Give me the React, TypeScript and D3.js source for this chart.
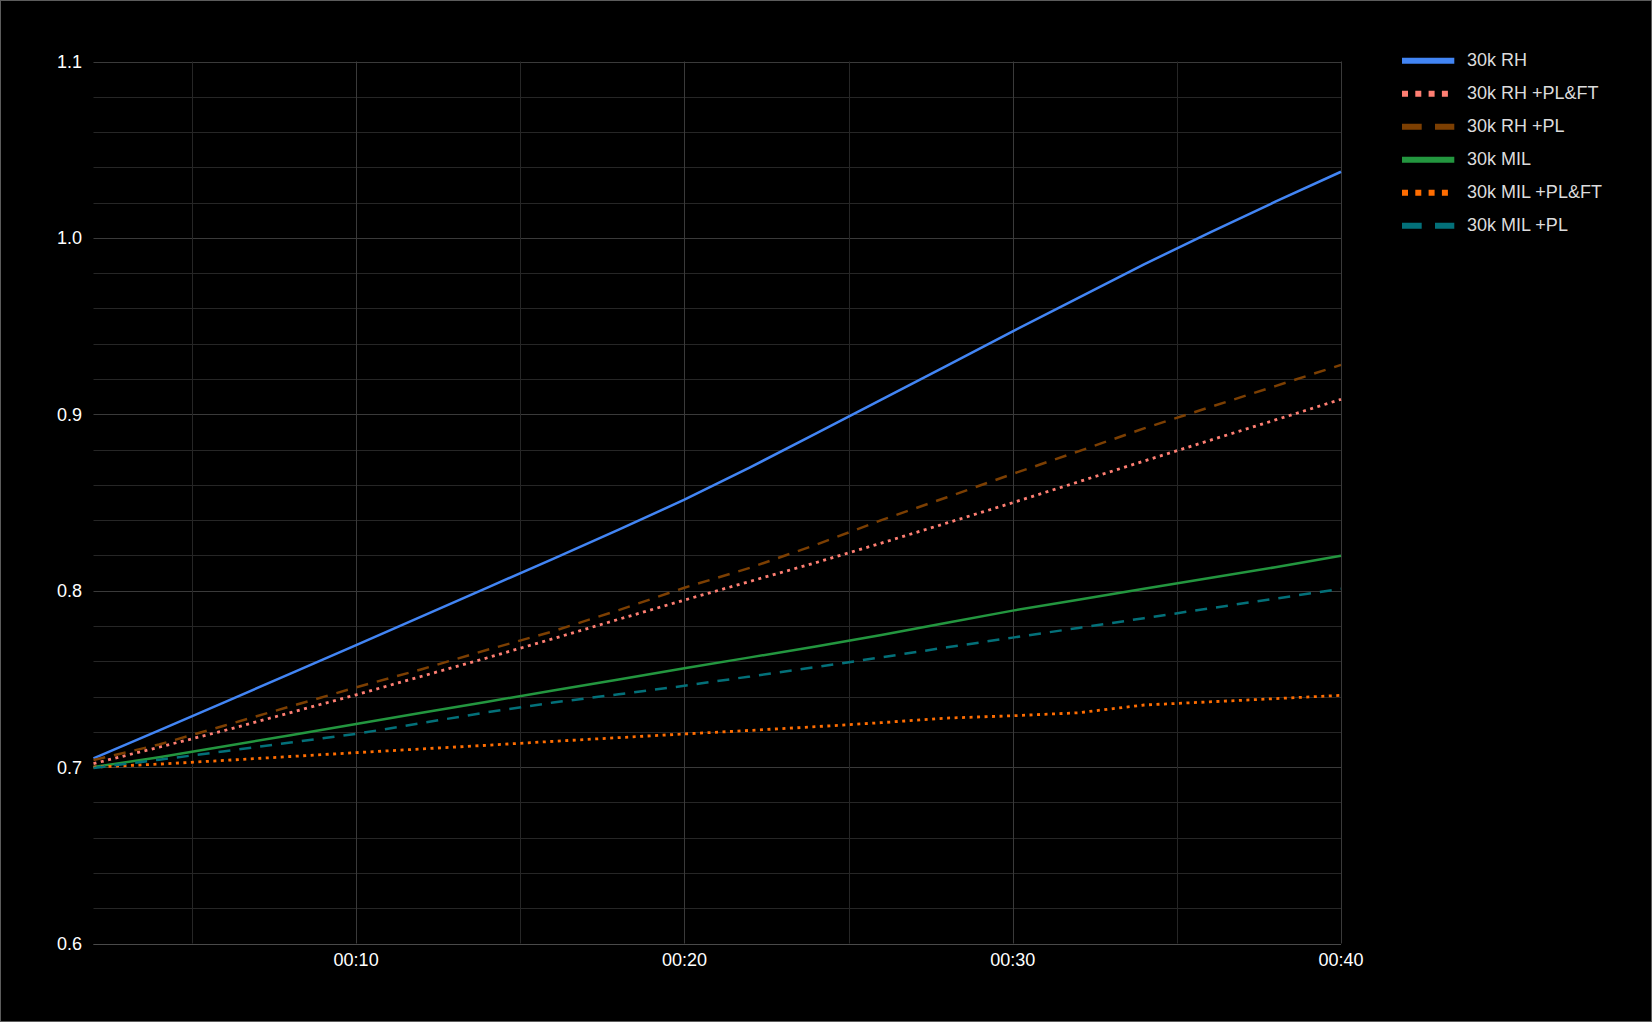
import { scaleLinear, line, range } from "d3";

const minutes = [2, 4, 6, 8, 10, 12, 14, 16, 18, 20, 22, 24, 26, 28, 30, 32, 34, 36, 38, 40];

const rh = [0.705, 0.7208, 0.7368, 0.753, 0.7692, 0.7855, 0.8018, 0.8181, 0.8346, 0.8516, 0.8699, 0.889, 0.9083, 0.9276, 0.947, 0.966, 0.985, 1.003, 1.0205, 1.0375];
const rhPlFt = [0.702, 0.7113, 0.7208, 0.7309, 0.741, 0.7515, 0.762, 0.7728, 0.7838, 0.7947, 0.8053, 0.8159, 0.827, 0.8384, 0.8499, 0.8617, 0.8735, 0.8852, 0.8968, 0.9085];
const rhPl = [0.704, 0.7128, 0.7236, 0.7344, 0.7452, 0.7555, 0.7665, 0.777, 0.789, 0.8017, 0.813, 0.826, 0.84, 0.853, 0.8662, 0.879, 0.892, 0.904, 0.916, 0.928];
const mil = [0.7, 0.7056, 0.7118, 0.7181, 0.7244, 0.7308, 0.7371, 0.7434, 0.7497, 0.756, 0.7622, 0.7684, 0.7749, 0.7818, 0.7887, 0.7949, 0.8011, 0.8072, 0.8133, 0.8198];
const milPlFt = [0.7, 0.7017, 0.7038, 0.706, 0.7082, 0.7103, 0.7124, 0.7146, 0.7167, 0.7188, 0.7208, 0.7229, 0.7252, 0.7278, 0.7291, 0.7308, 0.7352, 0.737, 0.7388, 0.7407];
const milPl = [0.6995, 0.7042, 0.709, 0.7139, 0.7188, 0.725, 0.7311, 0.7366, 0.7413, 0.7461, 0.7514, 0.7567, 0.7622, 0.7679, 0.7734, 0.7789, 0.7844, 0.79, 0.7955, 0.8011];

const seriesNames = ["30k RH", "30k RH +PL&FT", "30k RH +PL", "30k MIL", "30k MIL +PL&FT", "30k MIL +PL"];
const seriesValues = [rh, rhPlFt, rhPl, mil, milPlFt, milPl];
const seriesColors = ["#4285f4", "#ff7f73", "#7c3f02", "#23963f", "#ff6d01", "#037079"];
const seriesStyles = ["solid", "dot", "dash", "solid", "dot", "dash"];

const xTicks = [10, 20, 30, 40];
const xMinor = [5, 15, 25, 35];
const yTicks = [0.6, 0.7, 0.8, 0.9, 1.0, 1.1];

const W = 1652;
const H = 1022;

const plotDash: Record<string, string | undefined> = { solid: undefined, dot: "3,4.5", dash: "12,9" };
const legendDash: Record<string, string | undefined> = { solid: undefined, dot: "6,7.3", dash: "19.7,13.3" };

export default function App() {
  const x = scaleLinear().domain([2, 40]).range([93.5, 1341]);
  const y = scaleLinear().domain([0.6, 1.1]).range([943.5, 61.5]);
  const path = line<number>()
    .x((_, i) => x(minutes[i]))
    .y((d) => y(d));
  const minorY = range(0, 26).map((i) => 0.6 + i * 0.02);
  const font = "Arial, 'Liberation Sans', sans-serif";

  return (
    <div style={{ position: "fixed", left: 0, top: 0 }}>
      <svg width={W} height={H} viewBox={`0 0 ${W} ${H}`} style={{ display: "block", fontFamily: font }}>
        <rect x={0} y={0} width={W} height={H} fill="#000" />
        <rect x={0.5} y={0.5} width={W - 1} height={H - 1} fill="none" stroke="#5c5c5c" />

        {minorY.map((v, i) => (
          <line key={"hy" + i} x1={x(2)} x2={x(40)} y1={Math.round(y(v)) + 0.5} y2={Math.round(y(v)) + 0.5}
            stroke={i % 5 === 0 ? "#3a3a3a" : "#262626"} />
        ))}
        {xMinor.map((m) => (
          <line key={"vm" + m} x1={Math.round(x(m)) + 0.5} x2={Math.round(x(m)) + 0.5} y1={y(1.1)} y2={y(0.6)} stroke="#262626" />
        ))}
        {xTicks.map((m) => (
          <line key={"vx" + m} x1={Math.round(x(m)) + 0.5} x2={Math.round(x(m)) + 0.5} y1={y(1.1)} y2={y(0.6)} stroke="#3a3a3a" />
        ))}
        <line x1={x(2)} x2={x(40)} y1={Math.round(y(0.6)) + 0.5} y2={Math.round(y(0.6)) + 0.5} stroke="#4a4a4a" />

        {yTicks.map((v) => (
          <text key={"yt" + v} x={82} y={y(v) + 6.5} textAnchor="end" fontSize={18} fill="#fff">
            {v.toFixed(1)}
          </text>
        ))}
        {xTicks.map((m) => (
          <text key={"xt" + m} x={x(m)} y={966} textAnchor="middle" fontSize={18} fill="#fff">
            {`00:${m}`}
          </text>
        ))}

        {seriesValues.map((vals, i) => (
          <path key={"s" + i} d={path(vals) ?? ""} fill="none" stroke={seriesColors[i]}
            strokeWidth={seriesStyles[i] === "dot" ? 2.8 : 2.5} strokeDasharray={plotDash[seriesStyles[i]]}
            strokeLinejoin="round" />
        ))}

        {seriesNames.map((name, i) => {
          const ry = 60.8 + i * 33;
          return (
            <g key={"lg" + i}>
              <line x1={1402} x2={1454.3} y1={ry} y2={ry} stroke={seriesColors[i]} strokeWidth={6}
                strokeDasharray={legendDash[seriesStyles[i]]} />
              <text x={1467} y={ry + 5.5} fontSize={18} fill="#dcdcdc">{name}</text>
            </g>
          );
        })}
      </svg>
    </div>
  );
}
